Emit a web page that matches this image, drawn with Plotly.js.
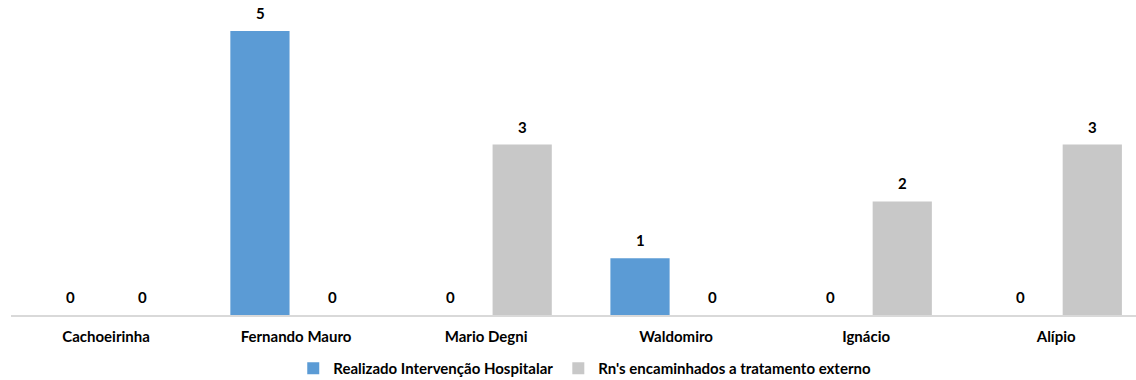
<!DOCTYPE html>
<html>
<head>
<meta charset="utf-8">
<script src="https://cdn.plot.ly/plotly-3.0.1.min.js"></script>
<style>
html,body{margin:0;padding:0;background:#fff;}
#chart{width:1136px;height:380px;}
</style>
</head>
<body>
<div id="chart"></div>
<script>
const categories = ["Cachoeirinha", "Fernando Mauro", "Mario Degni", "Waldomiro", "Ignácio", "Alípio"];
const seriesNames = ["Realizado Intervenção Hospitalar", "Rn's encaminhados a tratamento externo"];
const realizado = [0, 5, 0, 1, 0, 0];
const encaminhados = [0, 0, 3, 0, 2, 3];

const FONT = "Lato, 'Open Sans', sans-serif";
const colors = ["#5b9bd5", "#c8c8c8"];

const traces = [
  {type: "bar", name: seriesNames[0], x: categories, y: realizado,
   marker: {color: colors[0]}, hoverinfo: "none"},
  {type: "bar", name: seriesNames[1], x: categories, y: encaminhados,
   marker: {color: colors[1]}, hoverinfo: "none"}
];

const annotations = [];
[realizado, encaminhados].forEach((vals, s) => {
  vals.forEach((v, i) => {
    annotations.push({
      x: categories[i], y: v, xref: "x", yref: "y",
      text: "<b>" + v + "</b>", showarrow: false,
      xanchor: "center", yanchor: "bottom",
      xshift: s === 0 ? -36 : 36, yshift: 7,
      font: {family: FONT, size: 15, color: "#000"}
    });
  });
});

const layout = {
  width: 1136, height: 380,
  margin: {l: 11, r: 0, t: 10, b: 65, autoexpand: false},
  paper_bgcolor: "#fff", plot_bgcolor: "#fff",
  barmode: "group", bargap: 0.24, bargroupgap: 0.18,
  showlegend: true,
  legend: {orientation: "h", x: 0.51, xanchor: "center", yref: "container", y: 0.03, yanchor: "middle",
           font: {family: FONT, size: 15, color: "#000", weight: "bold"}, traceorder: "normal"},
  xaxis: {type: "category", range: [-0.5, 5.42], showgrid: false, zeroline: false,
          showline: true, linecolor: "#d9d9d9", linewidth: 2,
          ticks: "", ticklabelstandoff: 7,
          tickfont: {family: FONT, size: 15, color: "#000", weight: "bold"}, fixedrange: true},
  yaxis: {range: [0, 5.37], showgrid: false, zeroline: false, showline: false,
          showticklabels: false, ticks: "", fixedrange: true},
  annotations: annotations
};

Plotly.newPlot("chart", traces, layout, {displayModeBar: false, staticPlot: true});
</script>
</body>
</html>
